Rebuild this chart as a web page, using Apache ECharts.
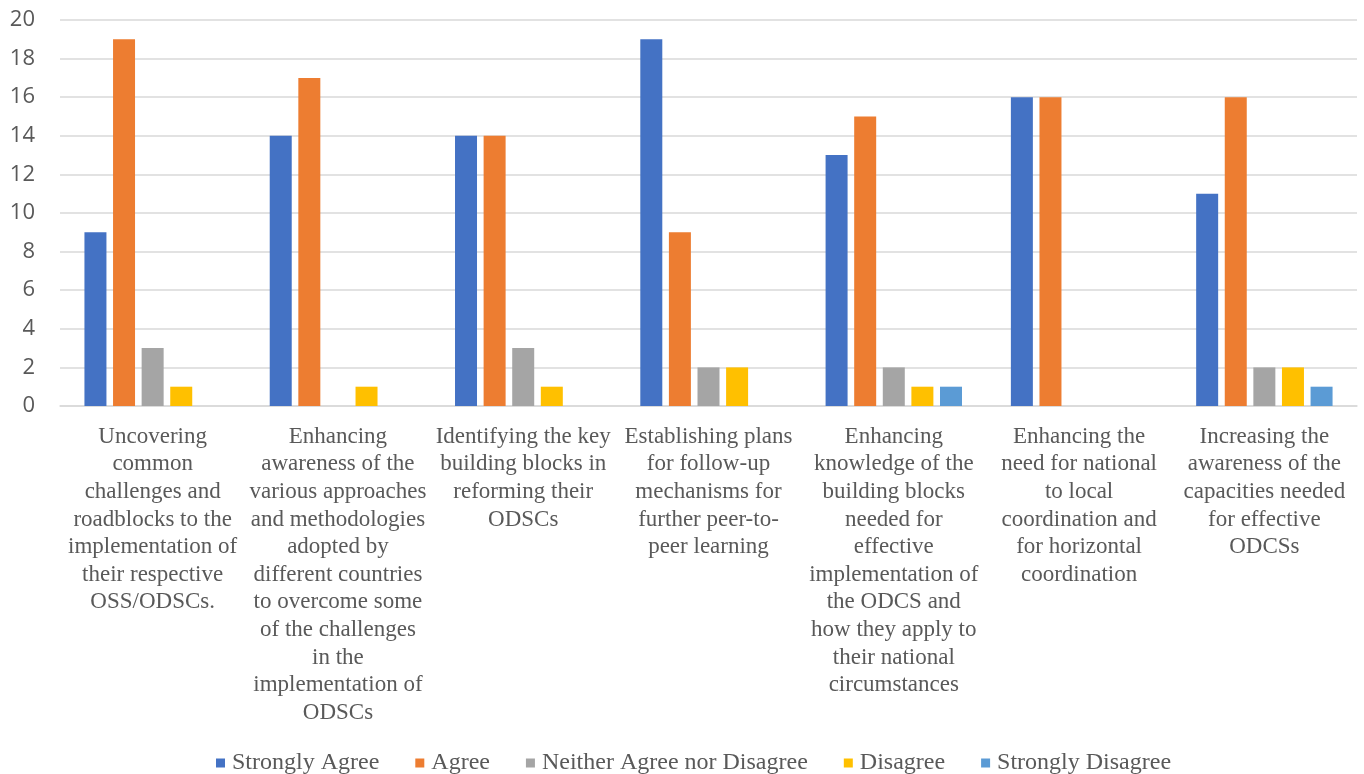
<!DOCTYPE html>
<html>
<head>
<meta charset="utf-8">
<script src="https://cdn.jsdelivr.net/npm/echarts@6/dist/echarts.min.js"></script>
<style>html,body{margin:0;padding:0;background:#fff;}#c{width:1364px;height:774px;}</style>
</head>
<body>
<div id="c"></div>
<script>
const categories = [
  "Uncovering\ncommon\nchallenges and\nroadblocks to the\nimplementation of\ntheir respective\nOSS/ODSCs.",
  "Enhancing\nawareness of the\nvarious approaches\nand methodologies\nadopted by\ndifferent countries\nto overcome some\nof the challenges\nin the\nimplementation of\nODSCs",
  "Identifying the key\nbuilding blocks in\nreforming their\nODSCs",
  "Establishing plans\nfor follow-up\nmechanisms for\nfurther peer-to-\npeer learning",
  "Enhancing\nknowledge of the\nbuilding blocks\nneeded for\neffective\nimplementation of\nthe ODCS and\nhow they apply to\ntheir national\ncircumstances",
  "Enhancing the\nneed for national\nto local\ncoordination and\nfor horizontal\ncoordination",
  "Increasing the\nawareness of the\ncapacities needed\nfor effective\nODCSs"
];
const seriesNames = ["Strongly Agree", "Agree", "Neither Agree nor Disagree", "Disagree", "Strongly Disagree"];
const stronglyAgree = [9, 14, 14, 19, 13, 16, 11];
const agree = [19, 17, 14, 9, 15, 16, 16];
const neither = [3, 0, 3, 2, 2, 0, 2];
const disagree = [1, 1, 1, 2, 1, 0, 2];
const stronglyDisagree = [0, 0, 0, 0, 1, 0, 1];
const colors = ["#4472C4", "#ED7D31", "#A5A5A5", "#FFC000", "#5B9BD5"];

const values = [stronglyAgree, agree, neither, disagree, stronglyDisagree];
const chart = echarts.init(document.getElementById('c'), null, {renderer: 'canvas'});
chart.setOption({
  animation: false,
  color: colors,
  grid: {left: 60, right: 7, top: 20, bottom: 368, containLabel: false},
  legend: {
    top: 746,
    left: 211,
    itemWidth: 9,
    itemHeight: 9,
    itemGap: 36,
    icon: 'rect',
    textStyle: {fontFamily: 'Liberation Serif', fontSize: 24, color: '#595959', padding: [0, 0, 0, 2]},
    data: seriesNames
  },
  xAxis: {
    type: 'category',
    data: categories,
    axisLine: {lineStyle: {color: '#D9D9D9', width: 1.5}},
    axisTick: {show: false},
    axisLabel: {
      interval: 0,
      margin: 17,
      fontFamily: 'Liberation Serif',
      fontSize: 23,
      lineHeight: 27.6,
      color: '#595959',
      align: 'center'
    }
  },
  yAxis: {
    type: 'value',
    min: 0,
    max: 20,
    interval: 2,
    axisLine: {show: false},
    axisTick: {show: false},
    splitLine: {lineStyle: {color: '#D9D9D9', width: 1.5}},
    axisLabel: {margin: 25, fontFamily: 'Open Sans', fontSize: 22, color: '#595959'}
  },
  series: seriesNames.map((n, i) => ({
    name: n,
    type: 'bar',
    data: values[i],
    barWidth: 22,
    barGap: '30%'
  }))
});
</script>
</body>
</html>
